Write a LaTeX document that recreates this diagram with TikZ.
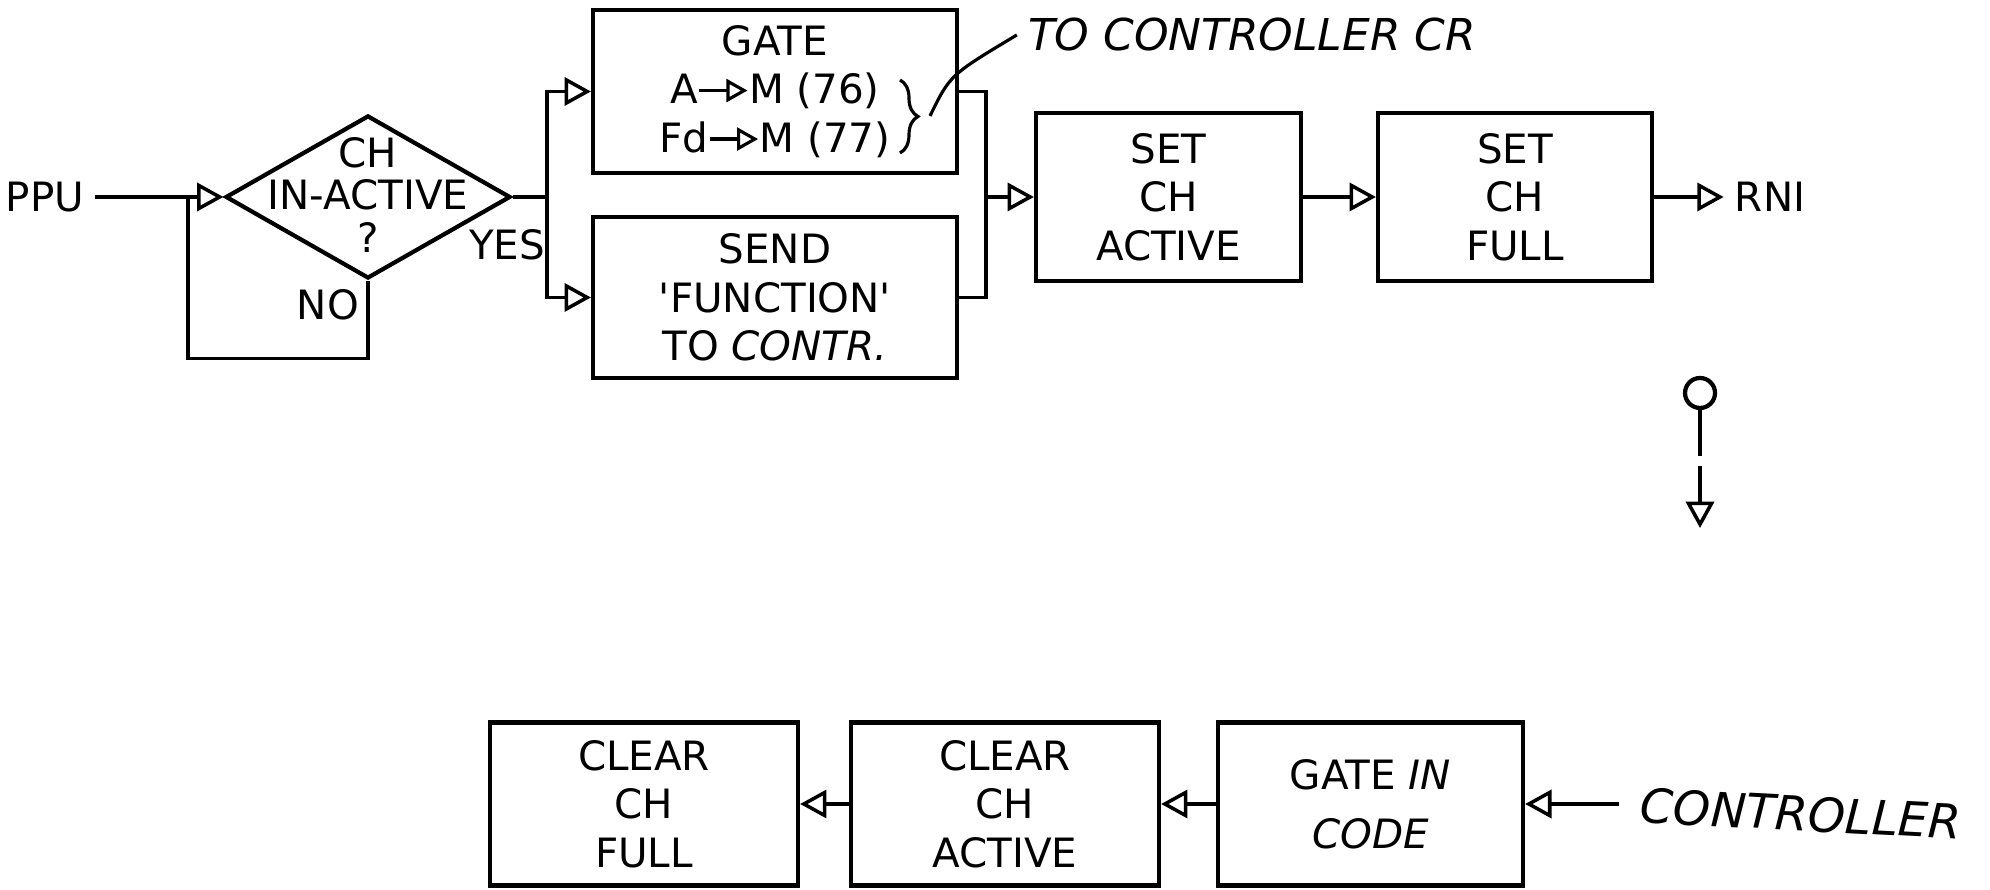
\documentclass[tikz,border=0pt]{standalone}
\usepackage{fontspec}
\setmainfont{DejaVu Sans}
\usepackage{tikz}
\usetikzlibrary{arrows.meta, positioning, calc, shapes, decorations.pathreplacing}

\newcommand{\gateto}{\tikz[baseline=-0.6ex]\draw[line width=0.9pt, -{Triangle[open, length=6pt, width=6.5pt]}] (0,0) -- (0.48,0);}

\tikzset{
    stepbox/.style={draw, line width=1.2pt, align=center, inner sep=0pt, font=\fontsize{11.5}{13.8}\selectfont},
    decision/.style={diamond, draw, line width=1.2pt, inner sep=0pt, minimum width=2.85cm, minimum height=1.63cm},
    flow/.style={line width=1pt, -{Triangle[open, length=7.5pt, width=8pt]}},
    wire/.style={line width=1pt},
    tag/.style={inner sep=3pt, font=\fontsize{11.5}{13.8}\selectfont},
    hand/.style={inner sep=3pt, font=\itshape\fontsize{12.5}{15}\selectfont},
}

\begin{document}
\begin{tikzpicture}
    \useasboundingbox (0,0) rectangle (19.9,8.9);

    \node[tag] (ppu) at (0.45, 6.93) {PPU};
    \node[decision] (chk) at (3.68, 6.93) {};
    \node[align=center, inner sep=0pt, font=\fontsize{11.5}{12}\selectfont] (chktxt) at (3.68, 6.95) {CH\\IN-ACTIVE\\?};
    \node[tag] (no) at (3.28, 5.85) {NO};
    \node[tag] (yes) at (5.07, 6.45) {YES};

    \node[stepbox, minimum width=3.64cm, minimum height=1.63cm] (gate) at (7.75, 7.985) {GATE\\A\gateto M (76)\\Fd\gateto M (77)};
    \node[stepbox, minimum width=3.64cm, minimum height=1.61cm] (send) at (7.75, 5.925) {SEND\\\textquotesingle FUNCTION\textquotesingle\\TO {\itshape CONTR.}};
    \node[stepbox, minimum width=2.65cm, minimum height=1.68cm] (setact) at (11.685, 6.93) {SET\\CH\\ACTIVE};
    \node[stepbox, minimum width=2.74cm, minimum height=1.68cm] (setfull) at (15.15, 6.93) {SET\\CH\\FULL};
    \node[tag] (rni) at (17.70, 6.93) {RNI};

    \coordinate (loop) at (1.88, 6.93);
    \coordinate (split) at (5.47, 6.93);
    \coordinate (merge) at (9.86, 6.93);

    \draw[flow] (ppu) -- (chk);
    \draw[wire] (chk.south) -- ++(0,-0.78) -| (loop);
    \draw[wire] (chk.east) -- (split);
    \draw[flow] (split) |- (gate.west);
    \draw[flow] (split) |- (send.west);
    \draw[wire] (gate.east) -| (merge) |- (send.east);
    \draw[flow] (merge) -- (setact);
    \draw[flow] (setact) -- (setfull);
    \draw[flow] (setfull) -- (rni);

    \draw[line width=0.9pt, decorate, decoration={brace, amplitude=0.18cm}] (9.0, 8.10) -- (9.0, 7.37);
    \node[hand] (tocr) at (12.52, 8.55) {TO CONTROLLER CR};
    \coordinate (bt) at (9.30, 7.74);
    \draw[line width=0.9pt] (bt) .. controls (9.50, 8.15) .. (tocr.west);

    \node[draw, circle, line width=1.2pt, minimum size=0.3cm, inner sep=0pt] (conn) at (17.00, 4.97) {};
    \coordinate (conntip) at (17.00, 3.62);
    \draw[flow, dash pattern=on 13pt off 3pt] (conn) -- (conntip);

    \node[stepbox, minimum width=3.08cm, minimum height=1.63cm] (clrfull) at (6.44, 0.86) {CLEAR\\CH\\FULL};
    \node[stepbox, minimum width=3.08cm, minimum height=1.63cm] (clract) at (10.05, 0.86) {CLEAR\\CH\\ACTIVE};
    \node[stepbox, minimum width=3.05cm, minimum height=1.63cm] (gatein) at (13.705, 0.86) {GATE {\itshape IN}\\[3pt]{\itshape CODE}};
    \node[hand, anchor=west, rotate=-3, inner xsep=6pt, font=\itshape\fontsize{13.5}{16}\selectfont] (ctrl) at (16.19, 0.86) {CONTROLLER};

    \draw[flow] (ctrl.west) -- (gatein.east);
    \draw[flow] (gatein) -- (clract);
    \draw[flow] (clract) -- (clrfull);
\end{tikzpicture}
\end{document}
